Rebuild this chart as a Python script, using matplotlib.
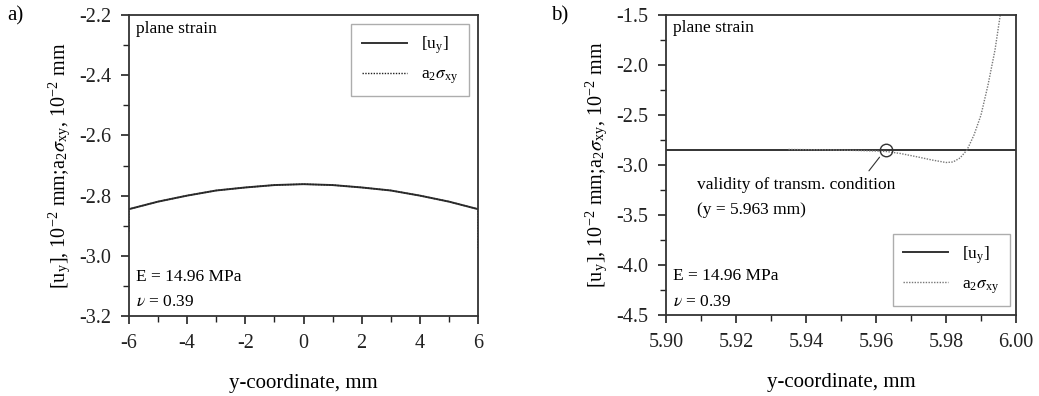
import matplotlib
matplotlib.use("Agg")
import matplotlib.pyplot as plt
from matplotlib.ticker import MultipleLocator, FormatStrFormatter

plt.rcParams['font.family'] = ['Liberation Serif', 'DejaVu Serif']
plt.rcParams['mathtext.fontset'] = 'stix'
plt.rcParams['axes.unicode_minus'] = False

# panel a: values
ya_x = [-6, -5, -4, -3, -2, -1, 0, 1, 2, 3, 4, 5, 6]
ya_u = [-2.845, -2.820, -2.800, -2.783, -2.773, -2.765, -2.762, -2.765, -2.773, -2.783, -2.800, -2.820, -2.845]
ya_sx = [-6, -6, -5, -4, -3, -2, -1, 0, 1, 2, 3, 4, 5, 6, 6]
ya_s = [-2.92, -2.845, -2.820, -2.800, -2.783, -2.773, -2.765, -2.762, -2.765, -2.773, -2.783, -2.800, -2.820, -2.845, -2.98]

# panel b
yb_x = [5.90, 6.00]
yb_u = [-2.845, -2.845]
yb_sx = [5.935, 5.945, 5.955, 5.960, 5.963, 5.967, 5.972, 5.976, 5.980, 5.982, 5.984, 5.986, 5.988, 5.990, 5.992, 5.994, 5.9955]
yb_s = [-2.845, -2.848, -2.855, -2.860, -2.865, -2.885, -2.92, -2.95, -2.975, -2.97, -2.93, -2.85, -2.70, -2.50, -2.20, -1.85, -1.50]

fig = plt.figure(figsize=(10.39, 3.96), dpi=100)
axa = fig.add_axes([129/1039, 1-316/396, 349/1039, 301/396])
axb = fig.add_axes([666/1039, 1-315/396, 350/1039, 300/396])

ylab = r'[u$_\mathregular{y}$], 10$^\mathregular{-2}$ mm;a$_\mathregular{2}$$\sigma_\mathregular{xy}$, 10$^\mathregular{-2}$ mm'
lab_u = r'[u$_\mathregular{y}$]'
lab_s = r'a$_\mathregular{2}$$\sigma_\mathregular{xy}$'

axa.plot(ya_x, ya_u, color='#333333', lw=1.4, label=lab_u)
axa.plot(ya_sx, ya_s, color='#222222', lw=1.0, ls=(0, (1, 1)), label=lab_s)
axa.set_xlim(-6, 6)
axa.set_ylim(-3.2, -2.2)
axa.xaxis.set_major_locator(MultipleLocator(2))
axa.xaxis.set_minor_locator(MultipleLocator(1))
axa.yaxis.set_major_locator(MultipleLocator(0.2))
axa.yaxis.set_minor_locator(MultipleLocator(0.1))
axa.yaxis.set_major_formatter(FormatStrFormatter('%.1f'))
axa.legend(loc='upper right', fontsize=12.5, fancybox=False, edgecolor='#999999',
           handlelength=2.6, borderpad=0.6, labelspacing=0.6, borderaxespad=0,
           bbox_to_anchor=(0.974, 0.97))

axb.plot(yb_x, yb_u, color='#333333', lw=1.4, label=lab_u)
axb.plot(yb_sx, yb_s, color='#777777', lw=1.0, ls=(0, (1, 1)), label=lab_s)
axb.plot([5.963], [-2.845], 'o', mfc='none', mec='#333333', ms=9, mew=1)
axb.annotate('', xy=(5.9615, -2.9), xytext=(5.9575, -3.08),
             arrowprops=dict(arrowstyle='-', color='#333333', lw=0.8))
axb.text(5.9089, -3.2, 'validity of transm. condition', fontsize=12.5, va='center')
axb.text(5.9089, -3.45, '(y = 5.963 mm)', fontsize=12.5, va='center')
axb.set_xlim(5.90, 6.00)
axb.set_ylim(-4.5, -1.5)
axb.xaxis.set_major_locator(MultipleLocator(0.02))
axb.xaxis.set_minor_locator(MultipleLocator(0.01))
axb.yaxis.set_major_locator(MultipleLocator(0.5))
axb.yaxis.set_minor_locator(MultipleLocator(0.25))
axb.xaxis.set_major_formatter(FormatStrFormatter('%.2f'))
axb.yaxis.set_major_formatter(FormatStrFormatter('%.1f'))
axb.legend(loc='lower right', fontsize=12.5, fancybox=False, edgecolor='#999999',
           handlelength=2.6, borderpad=0.6, labelspacing=0.6, borderaxespad=0,
           bbox_to_anchor=(0.983, 0.03))

for ax in (axa, axb):
    for s in ax.spines.values():
        s.set_linewidth(1.3)
        s.set_color('#333333')
    ax.tick_params(which='both', direction='out', top=False, right=False, labelsize=14.5, colors='#222222')
    ax.tick_params(which='major', length=6, width=1.2, pad=7)
    ax.tick_params(which='minor', length=4, width=1.0)
    ax.set_xlabel('y-coordinate, mm', fontsize=15, labelpad=15)
    ax.set_ylabel(ylab, fontsize=14.5, labelpad=4)
    ax.text(0.02, 0.955, 'plane strain', transform=ax.transAxes, fontsize=12.5, va='center')
    ax.text(0.02, 0.13, 'E = 14.96 MPa', transform=ax.transAxes, fontsize=12.5, va='center')
    ax.text(0.02, 0.045, r'$\nu$ = 0.39', transform=ax.transAxes, fontsize=12.5, va='center')

fig.text(7/1039, 1-16/396, 'a)', fontsize=15, va='center')
fig.text(551/1039, 1-16/396, 'b)', fontsize=15, va='center')

fig.savefig('out.png', dpi=100)
